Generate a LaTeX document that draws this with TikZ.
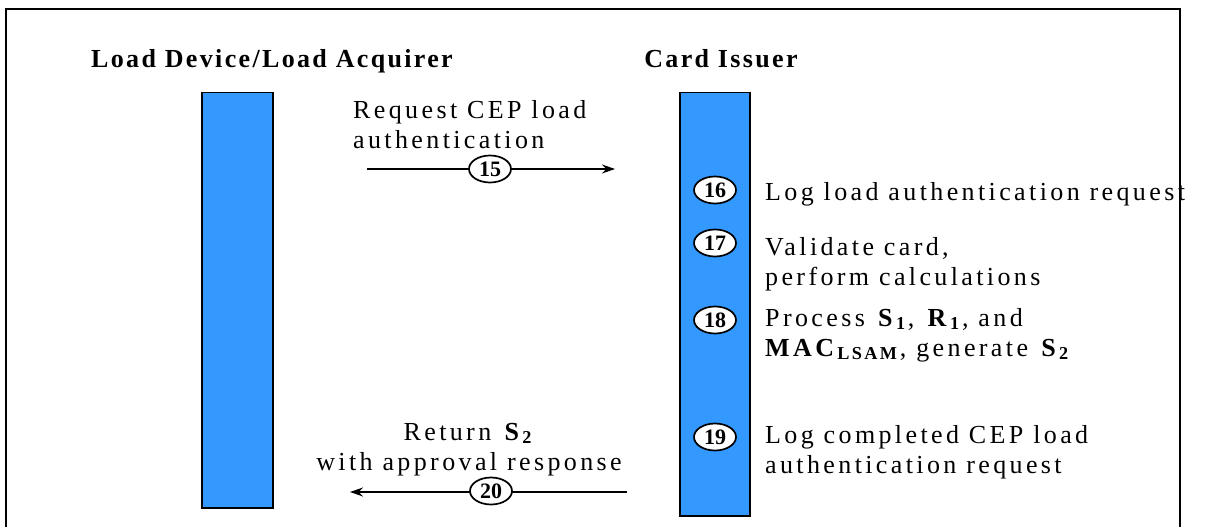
\documentclass[tikz,border=0pt]{standalone}
\usepackage{fontspec}
\setmainfont{Liberation Serif}[LetterSpace=13]
\newfontfamily\ttlfont{Liberation Serif}[LetterSpace=9]
\newfontfamily\numfont{Liberation Serif}
\usetikzlibrary{shapes.geometric,arrows.meta}
\definecolor{barblue}{RGB}{51,153,255}
\newcommand{\bsub}[2]{\textbf{#1}\textsubscript{\textbf{#2}}}
\begin{document}
\begin{tikzpicture}[x=1pt,y=-1pt,
  txt/.style={font=\fontsize{26}{30}\selectfont, inner sep=0pt, align=left, anchor=base west},
  ctxt/.style={font=\fontsize{26}{30}\selectfont, inner sep=0pt, align=center, anchor=base},
  ttl/.style={font=\ttlfont\fontsize{26}{30}\selectfont\bfseries, inner sep=0pt, anchor=base},
  num/.style={ellipse, draw, fill=white, line width=1.7pt, inner sep=0pt,
              minimum width=42pt, minimum height=27pt,
              font=\numfont\bfseries\fontsize{22}{22}\selectfont},
  bar/.style={draw, fill=barblue, line width=1.5pt, inner sep=0pt, anchor=north west},
  msg/.style={line width=1.3pt, -{Stealth[length=13pt,width=9pt]}}]
\useasboundingbox (0,0) rectangle (1219,527);

% lifelines
\node[bar, minimum width=71pt, minimum height=415pt] (ld) at (201,92) {};
\node[bar, minimum width=70pt, minimum height=423pt] (ci) at (679,92) {};

% titles
\node[ttl] (t1) at (272,68) {Load Device/Load Acquirer};
\node[ttl] (t2) at (721,68) {Card Issuer};

% message 15
\coordinate (m15s) at (367,169);
\coordinate (m15e) at (615,169);
\draw[msg] (m15s) -- (m15e);
\node[num] (n15) at (490,169) {15};
\node[txt] (l15) at (353,148) {Request CEP load\\authentication};

% steps at card issuer
\node[num] (n16) at (715,190) {16};
\node[txt] (l16) at (765,200) {Log load authentication request};
\node[num] (n17) at (715,243) {17};
\node[txt] (l17) at (765,285) {Validate card,\\perform calculations};
\node[num] (n18) at (715,320) {18};
\node[txt] (l18) at (765,356) {Process \bsub{S}{1}, \bsub{R}{1}, and\\\bsub{MAC}{LSAM}, generate \bsub{S}{2}};
\node[num] (n19) at (715,437) {19};
\node[txt] (l19) at (765,473) {Log completed CEP load\\authentication request};

% message 20
\coordinate (m20s) at (627,492);
\coordinate (m20e) at (350,492);
\draw[msg] (m20s) -- (m20e);
\node[num] (n20) at (491,491) {20};
\node[ctxt] (l20) at (469,470) {Return \bsub{S}{2}\\with approval response};

% frame
\draw[line width=2pt] (6,530) -- (6,9) -- (1180,9) -- (1180,530);
\end{tikzpicture}
\end{document}
